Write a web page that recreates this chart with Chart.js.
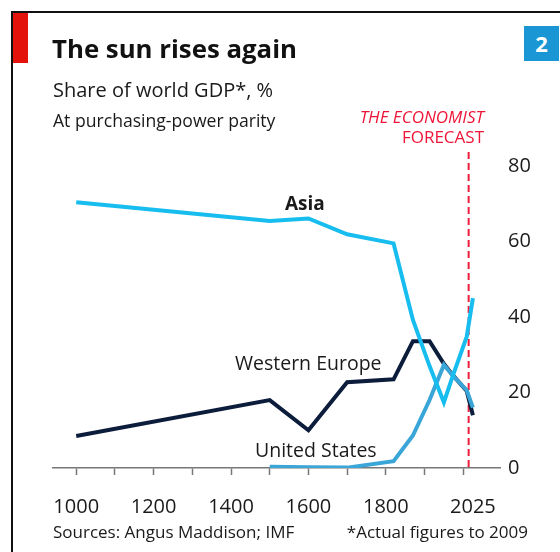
<!DOCTYPE html>
<html>
<head>
<meta charset="utf-8">
<script src="https://cdn.jsdelivr.net/npm/chart.js@4.4.1/dist/chart.umd.min.js"></script>
<style>
  html, body { margin: 0; padding: 0; background: #fff; }
  #wrap { position: relative; width: 560px; height: 552px; overflow: hidden; font-family: "Open Sans", sans-serif; color: #1a1a1a; }
  #wrap canvas { position: absolute; left: 0; top: 0; }
  .t { position: absolute; white-space: nowrap; line-height: 1; }
  #frameTop { position: absolute; left: 11px; top: 11px; width: 549px; height: 2px; background: #111; }
  #frameLeft { position: absolute; left: 11px; top: 11px; width: 2px; height: 541px; background: #111; }
  #redTab { position: absolute; left: 13px; top: 13px; width: 15px; height: 50px; background: #e3120b; }
  #num { position: absolute; left: 524px; top: 26px; width: 35px; height: 35px; background: #1a96d4; color: #fff; font-weight: bold; font-size: 22px; line-height: 35px; text-align: center; }
</style>
</head>
<body>
<div id="wrap">
  <canvas id="chart" width="560" height="552"></canvas>
  <div id="frameTop"></div>
  <div id="frameLeft"></div>
  <div id="redTab"></div>
  <div id="num">2</div>
  <div class="t" style="left:52px; top:36px; font-size:25.8px; font-weight:bold; color:#111;">The sun rises again</div>
  <div class="t" style="left:53px; top:80px; font-size:20px;">Share of world GDP*, %</div>
  <div class="t" style="left:53px; top:112px; font-size:17.6px;">At purchasing-power parity</div>
  <div class="t" style="right:76px; top:108px; font-size:17px; font-style:italic; color:#ee1538; text-align:right;">THE ECONOMIST</div>
  <div class="t" style="right:76px; top:128px; font-size:17px; color:#ee1538; text-align:right;">FORECAST</div>
  <div class="t" style="left:285px; top:194px; font-size:19px; font-weight:bold;">Asia</div>
  <div class="t" style="left:235px; top:353px; font-size:19.5px;">Western Europe</div>
  <div class="t" style="left:255px; top:440px; font-size:19.5px;">United States</div>
  <div class="t" style="left:53px; top:523px; font-size:17px;">Sources: Angus Maddison; IMF</div>
  <div class="t" style="right:32px; top:523px; font-size:17px;">*Actual figures to 2009</div>
</div>
<script>
// share of world GDP, %
var asiaYears = [1000, 1500, 1600, 1700, 1820, 1870, 1913, 1950, 1973, 2009, 2025];
var asiaShare = [70.4, 65.4, 66.1, 61.9, 59.5, 39.2, 27.0, 17.4, 24.4, 34.8, 45.0];

var europeYears = [1000, 1500, 1600, 1700, 1820, 1870, 1913, 1950, 1973, 2009, 2025];
var europeShare = [8.5, 18.0, 10.0, 22.7, 23.5, 33.6, 33.6, 27.6, 24.6, 20.4, 14.0];

var usYears = [1500, 1600, 1700, 1820, 1870, 1913, 1950, 1973, 2009, 2025];
var usShare = [0.3, 0.2, 0.1, 1.8, 8.6, 18.0, 27.3, 24.5, 20.6, 16.0];

var xTicks = [1000, 1100, 1200, 1300, 1400, 1500, 1600, 1700, 1800, 1900, 2000];
var xLabels = [1000, 1200, 1400, 1600, 1800, 2025];
var forecastYear = 2014;

function points(xs, ys)
{
  return xs.map(function(x, i) { return {x: x, y: ys[i]}; });
}

var forecastLine = {
  id: 'forecastLine',
  beforeDatasetsDraw: function(chart)
  {
    var ctx = chart.ctx;
    var x = chart.scales.x.getPixelForValue(forecastYear);
    var top = chart.scales.y.getPixelForValue(83.7);
    var bottom = chart.scales.y.getPixelForValue(0);
    ctx.save();
    ctx.strokeStyle = '#ee1f3c';
    ctx.lineWidth = 2;
    ctx.setLineDash([7, 4]);
    ctx.beginPath();
    ctx.moveTo(x, top);
    ctx.lineTo(x, bottom);
    ctx.stroke();
    ctx.restore();
  }
};

var tickFont = {family: '"Open Sans", sans-serif', size: 20};

new Chart(document.getElementById('chart').getContext('2d'), {
  type: 'line',
  data: {
    datasets: [
      {label: 'Asia', data: points(asiaYears, asiaShare), borderColor: '#17bdee', borderWidth: 4, order: 0},
      {label: 'United States', data: points(usYears, usShare), borderColor: '#3aa6d8', borderWidth: 4, order: 1},
      {label: 'Western Europe', data: points(europeYears, europeShare), borderColor: '#0c1d3b', borderWidth: 4, order: 2}
    ]
  },
  options: {
    responsive: false,
    animation: false,
    devicePixelRatio: 1,
    layout: {padding: {left: 53, top: 166, right: 0, bottom: 0}},
    elements: {point: {radius: 0}, line: {tension: 0, borderJoinStyle: 'miter', borderCapStyle: 'butt'}},
    plugins: {legend: {display: false}, tooltip: {enabled: false}},
    scales: {
      x: {
        type: 'linear',
        min: 940,
        max: 2095,
        afterBuildTicks: function(scale)
        {
          scale.ticks = xTicks.concat([2025]).map(function(v) { return {value: v}; });
        },
        afterFit: function(scale) { scale.height = 84; },
        grid: {
          display: true,
          drawOnChartArea: false,
          drawTicks: true,
          tickLength: 7,
          tickWidth: 1.5,
          tickColor: function(c) { return c.tick && c.tick.value == 2025 ? 'rgba(0,0,0,0)' : '#777'; }
        },
        border: {display: true, color: '#777', width: 1.5},
        ticks: {
          autoSkip: false,
          maxRotation: 0,
          padding: 20,
          color: '#1a1a1a',
          font: tickFont,
          callback: function(v) { return xLabels.indexOf(v) >= 0 ? String(v) : ''; }
        }
      },
      y: {
        position: 'right',
        min: 0,
        max: 80,
        afterFit: function(scale) { scale.width = 60; },
        grid: {display: false, drawTicks: false},
        border: {display: false},
        ticks: {stepSize: 20, padding: 8, color: '#1a1a1a', font: tickFont}
      }
    }
  },
  plugins: [forecastLine]
});
</script>
</body>
</html>
